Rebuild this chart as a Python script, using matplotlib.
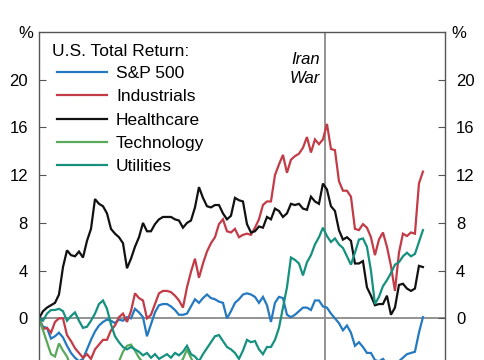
import matplotlib
matplotlib.use("Agg")
import matplotlib.pyplot as plt
import numpy as np

plt.rcParams['font.family'] = ['Liberation Sans', 'DejaVu Sans']

# trading-day index, war starts between day 71 and 72
war_day = 71.5

sp500 = [0, -0.7, -0.8, -1.7, -1.5, -1.2, -1.6, -2.3, -2.9, -3.3,
         -3.6, -3.4, -2.6, -1.8, -1.1, -0.6, -0.3, -0.1, -0.2, -0.4,
         -0.1, -0.2, 0.1, 0.0, 0.8, 0.5, 0.1, -1.5, -0.5, 0.5,
         1.1, 1.2, 1.2, 1.0, 0.7, 0.3, 0.3, 0.4, 1.0, 1.6,
         1.3, 1.7, 2.0, 1.7, 1.6, 1.4, 1.3, 0.0, 0.6, 1.3,
         1.6, 2.0, 2.1, 2.0, 1.8, 1.3, 1.8, 1.1, -0.3, 1.3,
         1.8, 1.7, 0.3, 0.1, 0.3, 0.6, 0.9, 0.9, 0.7, 1.5,
         1.5, 1.0, 0.9, 0.4, 0.0, -0.4, -1.0, -0.6, -1.2, -2.3,
         -2.0, -2.4, -2.9, -2.9, -3.5, -3.6, -3.4, -3.8, -3.7, -3.7,
         -3.6, -3.3, -3.0, -2.9, -2.8, -1.2, 0.1]

industrials = [0, -0.9, -0.8, -1.2, -0.3, 0.0, 0.0, -1.4, -1.9, -2.5,
               -2.9, -3.3, -3.0, -3.4, -2.6, -2.2, -1.8, -1.8, -1.0, -0.6,
               0.1, 0.4, -0.3, 0.6, 2.1, 1.7, 1.5, 0.0, 0.3, 1.2,
               2.1, 2.3, 2.3, 2.2, 1.9, 1.5, 0.9, 2.6, 3.9, 5.0,
               3.4, 4.6, 5.6, 6.3, 6.8, 7.9, 8.3, 7.3, 7.2, 7.5,
               6.8, 7.0, 7.1, 7.0, 7.6, 8.3, 9.5, 9.8, 9.8, 12.0,
               12.9, 13.7, 12.2, 13.3, 13.6, 13.8, 14.3, 15.2, 13.9, 15.0,
               14.6, 15.0, 16.3, 14.2, 14.1, 11.5, 10.7, 10.7, 10.2, 7.5,
               7.4, 7.9, 7.6, 6.8, 5.3, 6.6, 7.2, 6.0, 4.4, 2.3,
               5.5, 7.1, 6.9, 7.2, 7.1, 11.3, 12.3]

healthcare = [0, 0.6, 0.9, 1.1, 1.3, 2.0, 4.3, 5.7, 5.3, 5.2,
              5.6, 5.1, 6.5, 7.5, 10.0, 9.6, 9.4, 8.8, 7.5, 7.1,
              6.8, 6.3, 4.2, 5.0, 6.0, 6.8, 8.0, 7.3, 7.3, 7.9,
              8.3, 8.5, 8.5, 8.5, 8.3, 8.2, 7.6, 8.0, 8.2, 9.3,
              11.0, 10.1, 9.4, 9.3, 9.5, 9.5, 8.8, 8.3, 8.6, 10.1,
              9.9, 9.8, 7.9, 7.2, 7.3, 7.7, 7.6, 8.5, 8.3, 9.2,
              9.0, 8.5, 8.8, 9.6, 9.5, 9.6, 9.2, 9.1, 10.2, 9.8,
              9.6, 11.3, 10.8, 9.4, 9.0, 7.4, 6.6, 6.8, 6.5, 4.6,
              4.6, 4.8, 2.6, 1.9, 1.1, 1.2, 1.2, 1.9, 0.3, 0.9,
              2.8, 2.9, 2.5, 2.3, 2.5, 4.4, 4.3]

technology = [0, -1.0, -2.0, -3.0, -3.2, -2.1, -2.7, -3.2, -4.1, -4.6,
              -5.2, -4.8, -5.5, -5.0, -4.4, -4.7, -5.3, -4.9, -4.1, -3.8,
              -3.6, -2.8, -2.3, -2.2, -2.7, -3.3, -3.7, -4.2, -3.9, -4.5,
              -4.1, -3.8, -4.3, -4.0, -3.7, -3.9, -3.4, -2.6, -3.3, -4.0,
              -4.6, -5.1, -4.8, -5.5, -5.9, -5.3, -5.6, -6.2, -5.8, -5.0,
              -4.5, -4.1, -3.6, -4.4, -5.1, -5.6, -5.2, -5.9, -6.3, -5.7,
              -5.0, -4.6, -4.9, -5.4, -5.1, -4.8, -5.3, -5.6, -5.0, -4.7,
              -4.9, -5.2, -5.8, -6.5, -6.1, -7.0, -7.4, -7.9, -7.2, -8.0,
              -8.6, -8.1, -8.8, -9.3, -9.0, -8.4, -8.7, -8.2, -8.9, -9.1,
              -8.5, -8.0, -7.6, -7.8, -7.2, -6.5, -5.9]

utilities = [0, -0.2, 0.4, 0.7, 0.7, 0.8, 0.6, -0.2, 0.2, 0.5,
             -0.2, -0.8, -0.7, -0.2, 0.4, 1.2, 1.5, 0.8, -0.5, -1.5,
             -2.0, -2.4, -2.6, -2.4, -2.6, -2.8, -3.1, -2.9, -3.3, -3.0,
             -3.4, -3.2, -3.0, -3.3, -2.9, -3.1, -2.8, -2.3, -3.0, -3.2,
             -3.6, -3.0, -2.5, -2.0, -1.5, -1.4, -1.9, -2.4, -2.6, -2.9,
             -3.4, -2.7, -1.8, -2.0, -1.9, -2.6, -3.0, -2.4, -2.4, -1.8,
             -0.8, 0.9, 2.6, 5.1, 4.9, 4.6, 3.6, 4.7, 5.3, 6.2,
             6.8, 7.6, 6.9, 6.4, 6.7, 6.2, 5.9, 5.2, 4.5, 5.5,
             6.6, 6.7, 6.0, 4.0, 1.2, 1.8, 2.7, 3.2, 3.8, 4.5,
             4.7, 5.2, 5.5, 5.2, 5.4, 6.4, 7.4]

labels = ['S&P 500', 'Industrials', 'Healthcare', 'Technology', 'Utilities']
colors = ['#2479c1', '#c23b46', '#111111', '#5aa85a', '#16907f']
series = [sp500, industrials, healthcare, technology, utilities]

yticks = list(range(-12, 21, 4))

fig = plt.figure(figsize=(4.85, 3.6), dpi=100)
# axes run past the bottom of the figure, as in the cropped original
ax = fig.add_axes([0.0804, -0.282, 0.837, 1.193])

days = np.arange(len(sp500))
for vals, lab, col in zip(series, labels, colors):
    ax.plot(days, vals, color=col, lw=1.6, label=lab, solid_joinstyle='miter')

ax.axhline(0, color='#8a8a8a', lw=1.3, zorder=0)
ax.axvline(war_day, color='#8a8a8a', lw=1.3, zorder=0)

ax.set_xlim(0, 101.5)
ax.set_ylim(-12, 24)
ax.set_xticks([])
ax.set_yticks(yticks)
ax.tick_params(axis='y', direction='in', length=5, width=0.8, color='#555555',
               labelsize=12, pad=8, left=True, right=True,
               labelleft=True, labelright=True)
for s in ax.spines.values():
    s.set_color('#555555')
    s.set_linewidth(1.0)

fig.text(26 / 485, 1 - 33 / 360, '%', ha='center', va='center', fontsize=12)
fig.text(459 / 485, 1 - 33 / 360, '%', ha='center', va='center', fontsize=12)

ax.text(war_day - 1.3, 20.9, 'Iran\nWar', ha='right', va='center', style='italic',
        fontsize=12, linespacing=1.3)

fig.text(52 / 485, 1 - 51 / 360, 'U.S. Total Return:', ha='left', va='center', fontsize=12.5)
ax.legend(loc='upper left', bbox_to_anchor=(57 / 485, 1 - 66 / 360),
          bbox_transform=fig.transFigure, frameon=False, borderpad=0,
          borderaxespad=0, handlelength=2.9, handletextpad=0.5,
          labelspacing=0.47, fontsize=12.5)

fig.savefig('out.png', dpi=100)
